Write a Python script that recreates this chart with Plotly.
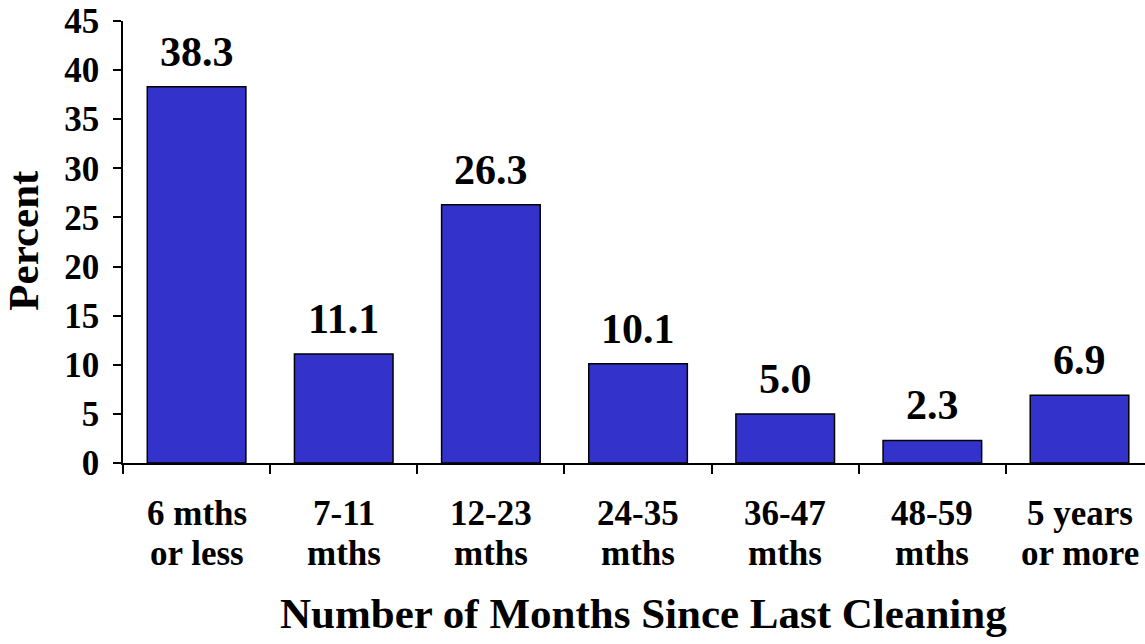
import plotly.graph_objects as go

categories = ["6 mths or less", "7-11 mths", "12-23 mths", "24-35 mths",
              "36-47 mths", "48-59 mths", "5 years or more"]
label_line1 = ["6 mths", "7-11", "12-23", "24-35", "36-47", "48-59", "5 years"]
label_line2 = ["or less", "mths", "mths", "mths", "mths", "mths", "or more"]
values = [38.3, 11.1, 26.3, 10.1, 5.0, 2.3, 6.9]
labels = ["38.3", "11.1", "26.3", "10.1", "5.0", "2.3", "6.9"]

FONT = "Liberation Serif"

fig = go.Figure()
fig.add_trace(go.Bar(
    x=categories, y=values,
    marker=dict(color="#3333CC", line=dict(color="black", width=1.5)),
    width=0.67,
    hoverinfo="skip",
))

for c, v, t in zip(categories, values, labels):
    fig.add_annotation(x=c, y=v, text="<b>%s</b>" % t, showarrow=False,
                       yanchor="bottom", yshift=10,
                       font=dict(family=FONT, size=42, color="black"))

# two-line category labels
for c, l1, l2 in zip(categories, label_line1, label_line2):
    fig.add_annotation(x=c, xref="x", yref="paper", y=0, yshift=-50,
                       xanchor="center", yanchor="middle", showarrow=False,
                       text="<b>%s</b>" % l1,
                       font=dict(family=FONT, size=35, color="black"))
    fig.add_annotation(x=c, xref="x", yref="paper", y=0, yshift=-90,
                       xanchor="center", yanchor="middle", showarrow=False,
                       text="<b>%s</b>" % l2,
                       font=dict(family=FONT, size=35, color="black"))

# axis titles as annotations
fig.add_annotation(xref="paper", yref="paper", x=0.509, y=-0.34,
                   xanchor="center", yanchor="middle", showarrow=False,
                   text="<b>Number of Months Since Last Cleaning</b>",
                   font=dict(family=FONT, size=43, color="black"))
fig.add_annotation(xref="paper", yref="paper", x=-0.097, y=0.505,
                   xanchor="center", yanchor="middle", showarrow=False,
                   textangle=-90, text="<b>Percent</b>",
                   font=dict(family=FONT, size=43, color="black"))

fig.update_layout(
    width=1145, height=644,
    margin=dict(l=123, r=0, t=21, b=181),
    plot_bgcolor="white", paper_bgcolor="white",
    showlegend=False,
    font=dict(family=FONT, color="black"),
    xaxis=dict(
        type="category",
        range=[-0.5, 6.445],
        automargin=False,
        tickson="boundaries",
        ticks="outside", ticklen=9, tickcolor="black", tickwidth=1.5,
        showline=True, linecolor="black", linewidth=1.5,
        showgrid=False,
        showticklabels=False,
    ),
    yaxis=dict(
        range=[0, 45], tickvals=[0, 5, 10, 15, 20, 25, 30, 35, 40, 45],
        automargin=False,
        ticks="outside", ticklen=8, tickcolor="black", tickwidth=1.5,
        showline=True, linecolor="black", linewidth=1.5,
        showgrid=False, zeroline=False,
        tickfont=dict(family=FONT, size=35, color="black", weight="bold"),
        ticklabelstandoff=7,
        ticklabeloverflow="allow",
    ),
)

fig.write_html("out.html",
               config={"displayModeBar": False},
               post_script="document.body.style.margin='0';document.body.style.overflow='hidden';")
